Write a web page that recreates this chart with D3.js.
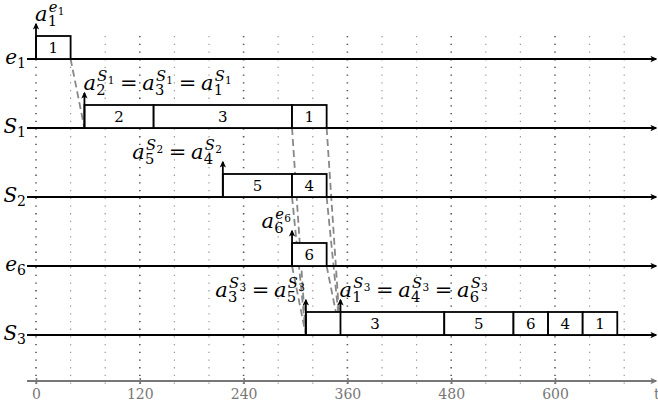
<!DOCTYPE html>
<html><head><meta charset="utf-8">
<script src="https://cdn.jsdelivr.net/npm/d3@7"></script>
<style>body{margin:0;background:#fff}svg{display:block}</style>
</head><body><svg id="chart" width="658" height="408"></svg>
<script>
// ---------------- data ----------------
const rows = ["e1", "S1", "S2", "e6", "S3"];
const rowBase = ["e", "S", "S", "e", "S"];
const rowSub = ["1", "1", "2", "6", "3"];

const taskRow   = ["e1", "S1", "S1", "S1", "S2", "S2", "e6", "S3", "S3", "S3", "S3", "S3"];
const taskStart = [0, 56, 136, 296, 216, 296, 296, 312, 472, 552, 592, 632];
const taskEnd   = [40, 136, 296, 336, 296, 336, 336, 472, 552, 592, 632, 672];
const taskLabel = ["1", "2", "3", "1", "5", "4", "6", "3", "5", "6", "4", "1"];

const arrowRow  = ["e1", "S1", "S2", "e6", "S3", "S3"];
const arrowTime = [0, 56, 216, 296, 312, 352];

// annotation terms: [subscript, superscript base, superscript subscript]
const noteSide = ["start", "start", "end", "end", "end", "start"];
const noteTerms = [
  [["1", "e", "1"]],
  [["2", "S", "1"], ["3", "S", "1"], ["1", "S", "1"]],
  [["5", "S", "2"], ["4", "S", "2"]],
  [["6", "e", "6"]],
  [["3", "S", "3"], ["5", "S", "3"]],
  [["1", "S", "3"], ["4", "S", "3"], ["6", "S", "3"]]
];

const linkFromRow  = ["e1", "S1", "S1", "S2", "S2", "e6", "e6"];
const linkFromTime = [40, 296, 336, 296, 336, 296, 336];
const linkToRow    = ["S1", "S3", "S3", "S3", "S3", "S3", "S3"];
const linkToTime   = [56, 312, 352, 312, 352, 312, 352];

const gridTimes = [0, 40, 80, 120, 160, 200, 240, 280, 320, 360, 400, 440, 480, 520, 560, 600, 640, 680];
const tickValues = [0, 120, 240, 360, 480, 600];
const axisLabel = "t";

// ---------------- layout ----------------
const FONT = "'DejaVu Serif', serif";
const svg = d3.select("#chart").style("font-family", FONT);
const x = d3.scaleLinear().domain([0, 600]).range([36, 555]);
const y = d3.scalePoint().domain(rows).range([59, 335]);
const axisY = 381, lineX0 = 27, lineX1 = 656, boxH = 23, arrowH = 35;
const F = 21;

const defs = svg.append("defs");
function marker(id, color) {
  defs.append("marker").attr("id", id).attr("viewBox", "0 0 10 10")
    .attr("refX", 8).attr("refY", 5).attr("markerWidth", 7).attr("markerHeight", 7)
    .attr("markerUnits", "userSpaceOnUse").attr("orient", "auto")
    .append("path").attr("d", "M0,0.5 L10,5 L0,9.5 L2.5,5 Z").attr("fill", color);
}
marker("ah", "#000");
marker("ahg", "#777");

function txt(sel) { return sel.append("text").style("font-family", FONT); }

// grid
svg.append("g").selectAll("line").data(gridTimes).join("line")
  .attr("x1", d => x(d)).attr("x2", d => x(d))
  .attr("y1", 36).attr("y2", axisY + 3)
  .attr("stroke", d => d % 120 === 0 ? "#555" : "#999")
  .attr("stroke-width", d => d % 120 === 0 ? 1.6 : 1.2)
  .attr("stroke-dasharray", "1.3 6.4");

// axis
svg.append("line").attr("x1", lineX0).attr("x2", lineX1).attr("y1", axisY).attr("y2", axisY)
  .attr("stroke", "#777").attr("stroke-width", 1.8).attr("marker-end", "url(#ahg)");
const axisG = svg.append("g").attr("transform", `translate(0,${axisY})`)
  .call(d3.axisBottom(x).tickValues(tickValues).tickSize(3).tickSizeOuter(0).tickPadding(5));
axisG.attr("font-family", null).attr("font-size", null);
axisG.select(".domain").remove();
axisG.selectAll(".tick line").attr("stroke", "#777").attr("stroke-width", 1.5).attr("y1", -3);
axisG.selectAll(".tick text").attr("fill", "#777").style("font-size", "14px").style("font-family", FONT);
txt(svg).attr("x", 654).attr("y", 399).attr("fill", "#777").style("font-size", "14px").text(axisLabel);

// dashed links
svg.append("g").selectAll("line").data(linkFromRow).join("line")
  .attr("x1", (d, i) => x(linkFromTime[i])).attr("y1", (d, i) => y(linkFromRow[i]))
  .attr("x2", (d, i) => x(linkToTime[i])).attr("y2", (d, i) => y(linkToRow[i]))
  .attr("stroke", "#888").attr("stroke-width", 1.8).attr("stroke-dasharray", "7 4");

// row lines
svg.append("g").selectAll("line").data(rows).join("line")
  .attr("x1", lineX0).attr("x2", lineX1).attr("y1", d => y(d)).attr("y2", d => y(d))
  .attr("stroke", "#000").attr("stroke-width", 1.8).attr("marker-end", "url(#ah)");

// row labels
rows.forEach((r, i) => {
  const t = txt(svg).attr("x", 26).attr("y", y(r) + 5).attr("text-anchor", "end").style("font-size", "20px");
  t.append("tspan").style("font-style", "italic").text(rowBase[i]);
  t.append("tspan").style("font-size", "14px").attr("dy", 4).text(rowSub[i]);
});

// boxes
const boxes = svg.append("g").selectAll("g").data(taskRow).join("g");
boxes.append("rect")
  .attr("x", (d, i) => x(taskStart[i])).attr("y", d => y(d) - boxH)
  .attr("width", (d, i) => x(taskEnd[i]) - x(taskStart[i])).attr("height", boxH)
  .attr("fill", "#fff").attr("stroke", "#000").attr("stroke-width", 1.8);
boxes.append("text").style("font-family", FONT)
  .attr("x", (d, i) => (x(taskStart[i]) + x(taskEnd[i])) / 2).attr("y", d => y(d) - boxH / 2 + 5.5)
  .attr("text-anchor", "middle").style("font-size", "15px").text((d, i) => taskLabel[i]);

// arrows
svg.append("g").selectAll("line").data(arrowRow).join("line")
  .attr("x1", (d, i) => x(arrowTime[i])).attr("x2", (d, i) => x(arrowTime[i]))
  .attr("y1", d => y(d)).attr("y2", d => y(d) - arrowH)
  .attr("stroke", "#000").attr("stroke-width", 1.8).attr("marker-end", "url(#ah)");

// math annotations
function mathTerm(g, x0, y0, term) {
  const a = txt(g).attr("x", x0).attr("y", y0).style("font-size", F + "px").style("font-style", "italic").text("a");
  const wa = a.node().getComputedTextLength();
  const fs = F * 0.7, fss = F * 0.5;
  const sub = txt(g).attr("x", x0 + wa + 0.3).attr("y", y0 + F * 0.25).style("font-size", fs + "px").text(term[0]);
  const wsub = sub.node().getComputedTextLength();
  const sb = txt(g).attr("x", x0 + wa + 1.2).attr("y", y0 - F * 0.44).style("font-size", fs + "px")
    .style("font-style", "italic").text(term[1]);
  const wsb = sb.node().getComputedTextLength();
  const ss = txt(g).attr("x", x0 + wa + 1.2 + wsb + 0.4).attr("y", y0 - F * 0.44 + F * 0.14)
    .style("font-size", fss + "px").text(term[2]);
  const wss = ss.node().getComputedTextLength();
  return wa + Math.max(wsub + 0.3, 1.2 + wsb + 0.4 + wss) + 1;
}
noteTerms.forEach((terms, i) => {
  const g = svg.append("g");
  const ax = x(arrowTime[i]);
  const by = y(arrowRow[i]) - 38;
  let cx = 0;
  terms.forEach((t, j) => {
    if (j > 0) {
      cx += F * 0.22;
      const eq = txt(g).attr("x", cx).attr("y", by).style("font-size", F + "px").text("=");
      cx += eq.node().getComputedTextLength() + F * 0.22;
    }
    cx += mathTerm(g, cx, by, t);
  });
  const dx = noteSide[i] === "start" ? ax - 1 : ax - cx;
  g.attr("transform", `translate(${dx},0)`);
});
</script>
</body></html>
